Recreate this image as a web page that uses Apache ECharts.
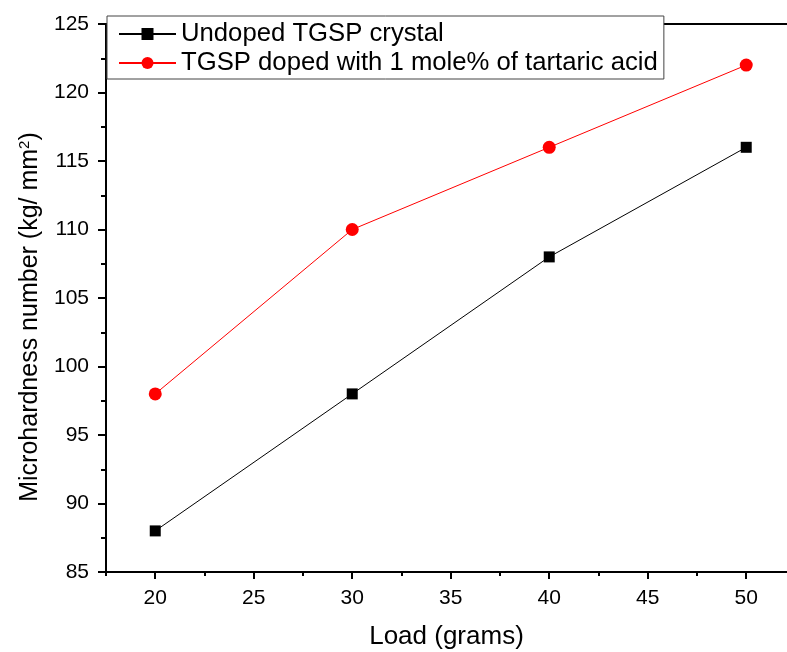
<!DOCTYPE html>
<html><head><meta charset="utf-8">
<script src="https://cdn.jsdelivr.net/npm/echarts@6/dist/echarts.min.js"></script>
<style>html,body{margin:0;padding:0;background:#fff}#c{width:787px;height:652px}</style>
</head><body><div id="c"></div>
<script>
const loads = [20, 30, 40, 50];
const undoped = [88, 98, 108, 116];
const doped = [98, 110, 116, 122];
const seriesNames = ['Undoped TGSP crystal', 'TGSP doped with 1 mole% of tartaric acid'];
const xMajorTicks = [20, 25, 30, 35, 40, 45, 50];
const xMinorTicks = [17.5, 22.5, 27.5, 32.5, 37.5, 42.5, 47.5];

const chart = echarts.init(document.getElementById('c'));
const font = 'Liberation Sans';
const xMin = 17.5, xMax = 52.07;
chart.setOption({
  animation: false,
  backgroundColor: '#fff',
  grid: { left: 106, right: 0, top: 24, bottom: 80, containLabel: false, outerBoundsMode: 'none' },
  legend: {
    orient: 'vertical', left: 107, top: 16,
    backgroundColor: '#fff', borderColor: '#444', borderWidth: 1,
    padding: [5, 6, 3, 11], itemGap: 3, itemWidth: 57, itemHeight: 15,
    textStyle: { fontFamily: font, fontSize: 25.7, color: '#000' },
    data: seriesNames
  },
  xAxis: [{
    type: 'value', min: xMin, max: xMax,
    name: 'Load (grams)', nameLocation: 'middle', nameGap: 52,
    nameTextStyle: { fontFamily: font, fontSize: 26, color: '#000' },
    axisLine: { onZero: false, lineStyle: { color: '#000', width: 2 } },
    axisTick: { show: true, length: 7, lineStyle: { color: '#000', width: 2 }, customValues: xMajorTicks },
    axisLabel: { show: true, fontFamily: font, fontSize: 21, color: '#000', margin: 16, customValues: xMajorTicks },
    splitLine: { show: false }
  }, {
    type: 'value', position: 'top', min: xMin, max: xMax,
    axisLine: { show: true, onZero: false, lineStyle: { color: '#000', width: 2 } },
    axisTick: { show: false }, axisLabel: { show: false }, splitLine: { show: false }
  }, {
    type: 'value', position: 'bottom', min: xMin, max: xMax,
    axisLine: { show: false, onZero: false },
    axisTick: { show: true, length: 4, lineStyle: { color: '#000', width: 2 }, customValues: xMinorTicks },
    axisLabel: { show: false }, splitLine: { show: false }
  }],
  yAxis: [{
    type: 'value', min: 85, max: 125, interval: 5,
    name: '{n|Microhardness number (kg/ mm}{s|2}{n|)}', nameLocation: 'middle', nameGap: 62,
    nameTextStyle: {
      padding: [0, 38, 0, 0],
      rich: {
        n: { fontFamily: font, fontSize: 25, color: '#000' },
        s: { fontFamily: font, fontSize: 15, color: '#000', verticalAlign: 'top', padding: [0, 0, 12, 0] }
      }
    },
    axisLine: { onZero: false, lineStyle: { color: '#000', width: 2 } },
    axisTick: { show: true, length: 8, lineStyle: { color: '#000', width: 2 } },
    minorTick: { show: true, splitNumber: 2, length: 5, lineStyle: { color: '#000', width: 2 } },
    axisLabel: { show: true, fontFamily: font, fontSize: 21, color: '#000', margin: 17 },
    splitLine: { show: false }
  }],
  series: [{
    name: seriesNames[0], type: 'line',
    data: loads.map((x, i) => [x, undoped[i]]),
    symbol: 'rect', symbolSize: 11,
    itemStyle: { color: '#000' }, lineStyle: { color: '#000', width: 1 }
  }, {
    name: seriesNames[1], type: 'line',
    data: loads.map((x, i) => [x, doped[i]]),
    symbol: 'circle', symbolSize: 13,
    itemStyle: { color: '#ff0000' }, lineStyle: { color: '#ff0000', width: 1 }
  }]
});
</script></body></html>
